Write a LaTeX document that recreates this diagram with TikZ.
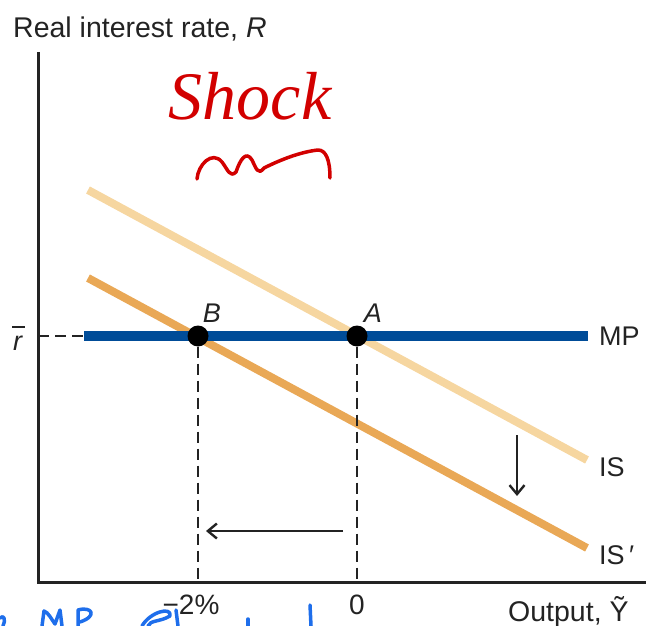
\documentclass[tikz,border=0pt]{standalone}
\usepackage{fontspec}
\setmainfont{Liberation Sans}
\newfontfamily\handfont{Liberation Serif}
\usetikzlibrary{arrows.meta}
\definecolor{mpblue}{RGB}{0,76,152}
\definecolor{islight}{RGB}{246,214,160}
\definecolor{isdark}{RGB}{233,168,86}
\definecolor{axisgray}{RGB}{35,35,35}
\definecolor{inkred}{RGB}{210,0,0}
\definecolor{inkblue}{RGB}{30,110,235}
\begin{document}
\begin{tikzpicture}[x=1pt,y=-1pt,
  lbl/.style={font=\fontsize{27}{30}\selectfont, inner sep=0pt, text=axisgray},
  guide/.style={line width=2.5pt, dash pattern=on 11pt off 6pt, axisgray},
  curve/.style={line width=8pt, line cap=butt},
  dot/.style={circle, fill=black, inner sep=0pt, minimum size=21pt},
  shiftarrow/.style={line width=2.2pt, axisgray, -{Straight Barb[length=9pt,width=15pt,line width=2.4pt]}},
  ink/.style={line width=3.5pt, line cap=round, line join=round}
]
\useasboundingbox (0,0) rectangle (646,626);

% axes
\coordinate (ytop) at (38,52);
\coordinate (o) at (38,582);
\coordinate (xend) at (646,582);
\draw[line width=3pt, axisgray] (ytop) -- (o) -- (xend);
\node[lbl, anchor=base west, font=\fontsize{28.5}{30}\selectfont] (ylab) at (13,38) {Real interest rate, \textit{R}};
\node[lbl, anchor=base west, font=\fontsize{28.5}{30}\selectfont] (xlab) at (508,621) {Output, Ỹ};

% curves
\coordinate (mpL) at (84,336);
\coordinate (mpR) at (588,336);
\coordinate (isL) at (88,190);
\coordinate (isR) at (587,460);
\coordinate (ispL) at (88,278);
\coordinate (ispR) at (587,548);
\coordinate (ryax) at (38,336);

\draw[guide] (ryax) -- (mpL);
\draw[curve, islight] (isL) -- (isR);
\draw[curve, isdark] (ispL) -- (ispR);
\draw[line width=10pt, mpblue] (mpL) -- (mpR);

% equilibrium points
\node[dot] (B) at (198,336) {};
\node[dot] (A) at (357,336) {};
\draw[guide] (B.south) -- (B |- o);
\draw[guide] (A.south) -- (A |- o);
\node[lbl, anchor=center] (Blab) at (212,313) {\textit{B}};
\node[lbl, anchor=center] (Alab) at (373,313) {\textit{A}};

% labels
\node[lbl, anchor=base] (rbar) at (18,350) {\textit{r}};
\coordinate (barL) at (12,327);
\coordinate (barR) at (25,327);
\draw[line width=1.8pt, axisgray] (barL) -- (barR);
\node[lbl, anchor=west] (mplab) at (599,336) {MP};
\node[lbl, anchor=west] (islab) at (599,467) {IS};
\node[lbl, anchor=west] (isplab) at (599,555) {IS\,′};
\node[lbl, anchor=center, font=\fontsize{28}{30}\selectfont] (m2) at (191,605) {−2\%};
\node[lbl, anchor=center, font=\fontsize{28}{30}\selectfont] (zero) at (357,605) {0};

% shift arrows
\coordinate (dA) at (517,435);
\coordinate (dB) at (517,496);
\draw[shiftarrow] (dA) -- (dB);
\coordinate (lA) at (343,531);
\coordinate (lB) at (206,531);
\draw[shiftarrow] (lA) -- (lB);

% handwritten annotations
\node[inkred, anchor=center, font=\handfont\itshape\fontsize{68}{72}\selectfont, inner sep=0pt] (shock) at (250,96) {Shock};
\coordinate (sq0) at (197,179);
\draw[ink, inkred] (sq0) .. controls (198,165) and (212,150) .. (222,162)
  .. controls (228,170) and (230,178) .. (236,172)
  .. controls (240,160) and (246,150) .. (252,160)
  .. controls (256,168) and (258,176) .. (264,168)
  .. controls (280,160) and (300,152) .. (318,150)
  .. controls (326,150) and (330,160) .. (330,178);

\draw[ink, inkblue] (0,618) .. controls (4,614) and (6,620) .. (3,626);
\draw[ink, inkblue] (42,626) -- (44,611) .. controls (48,612) and (52,620) .. (55,624) -- (60,610) -- (62,626);
\draw[ink, inkblue] (78,626) -- (78,610) .. controls (92,606) and (98,616) .. (80,622);
\draw[ink, inkblue] (142,626) .. controls (150,612) and (172,606) .. (170,616) .. controls (160,622) and (150,620) .. (148,626);
\draw[ink, inkblue] (176,610) -- (178,626);
\draw[ink, inkblue] (248,619) -- (248,626);
\draw[ink, inkblue] (310,605) -- (311,626);
\end{tikzpicture}
\end{document}
